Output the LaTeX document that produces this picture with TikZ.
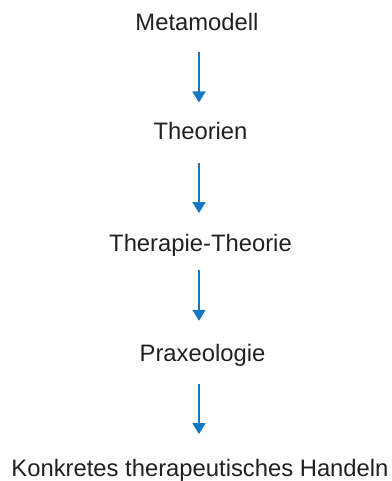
\documentclass[tikz,border=0pt]{standalone}
\usepackage{fontspec}
\setmainfont{Liberation Sans}
\usetikzlibrary{arrows.meta}
\definecolor{txt}{RGB}{35,31,32}
\definecolor{arrblue}{RGB}{20,120,196}
\tikzset{
  lbl/.style={anchor=base, inner sep=0pt, text=txt, font=\fontsize{23.8}{26}\selectfont, text height=17pt, text depth=5pt},
  arr/.style={draw=arrblue, line width=1.7pt, -{Triangle[width=13pt,length=11pt]}}
}
\begin{document}
\begin{tikzpicture}[x=1pt,y=-1pt]
\useasboundingbox (0,0) rectangle (391,481);
\node[lbl] (m) at (197,31) {Metamodell};
\node[lbl] (t) at (200.5,140) {Theorien};
\node[lbl] (tt) at (200.5,251) {Therapie-Theorie};
\node[lbl] (p) at (202.5,361.7) {Praxeologie};
\node[lbl] (k) at (200,476.7) {Konkretes therapeutisches Handeln};
\coordinate (ax) at (199,0);
\draw[arr, shorten <=15.7pt, shorten >=20.3pt] (m.south -| ax) -- (t.north -| ax);
\draw[arr, shorten <=17.7pt, shorten >=20.7pt] (t.south -| ax) -- (tt.north -| ax);
\draw[arr, shorten <=14pt, shorten >=23.7pt] (tt.south -| ax) -- (p.north -| ax);
\draw[arr, shorten <=17.3pt, shorten >=25.4pt] (p.south -| ax) -- (k.north -| ax);
\end{tikzpicture}
\end{document}
